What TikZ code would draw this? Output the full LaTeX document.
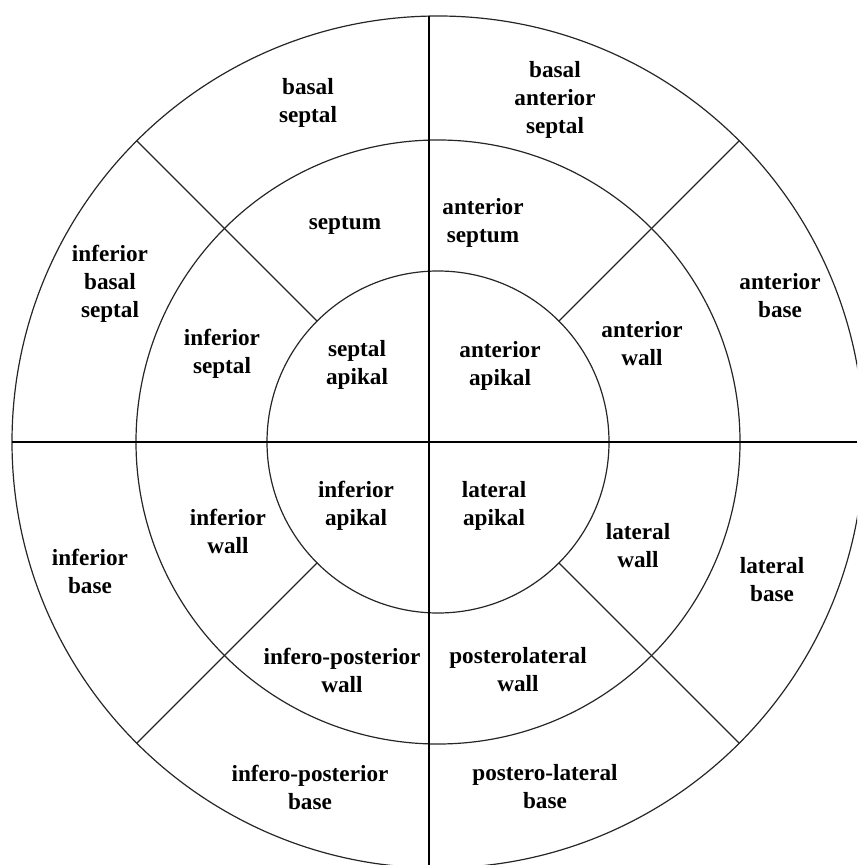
\documentclass[tikz,border=0pt]{standalone}
\usepackage{fontspec}
\setmainfont{Liberation Serif}
\tikzset{
  ring/.style={draw=black!85, line width=0.6pt},
  axis/.style={draw=black, line width=0.9pt},
  spoke/.style={draw=black!85, line width=0.6pt},
  seglabel/.style={align=center, inner sep=0pt,
    font=\fontsize{11.6}{14}\selectfont\bfseries}
}
\begin{document}
\begin{tikzpicture}[x=0.5pt,y=-0.5pt]
\useasboundingbox (0,0) rectangle (857,865);
\clip (0,0) rectangle (857,865);
\coordinate (c) at (438,442);
% three rings
\foreach \r in {213pt,151pt,85.5pt} {
  \draw[ring] (c) circle[radius=\r];
}
% cross lines
\coordinate (top) at (429,16);
\coordinate (bottom) at (429,865);
\coordinate (left) at (12,442);
\coordinate (right) at (857,442);
\draw[axis] (top) -- (bottom);
\draw[axis] (left) -- (right);
% diagonals through the two outer rings
\foreach \a in {45,135,225,315} {
  \draw[spoke] (c) ++(\a:85.5pt) -- ++(\a:127.5pt);
}
% outer ring
\node[seglabel] (bsep) at (308,103) {basal\\septal};
\node[seglabel] (bant) at (555,100) {basal\\anterior\\septal};
\node[seglabel] (ibsep) at (110,284) {inferior\\basal\\septal};
\node[seglabel] (antb) at (780,296) {anterior\\base};
\node[seglabel] (infb) at (90,571) {inferior\\base};
\node[seglabel] (latb) at (772,580) {lateral\\base};
\node[seglabel] (ipb) at (310,787) {infero-posterior\\base};
\node[seglabel] (plb) at (545,787) {postero-lateral\\base};
% middle ring
\node[seglabel] (sept) at (345,225) {septum};
\node[seglabel] (antsept) at (483,223) {anterior\\septum};
\node[seglabel] (infsept) at (222,354) {inferior\\septal};
\node[seglabel] (antw) at (642,344) {anterior\\wall};
\node[seglabel] (infw) at (228,531) {inferior\\wall};
\node[seglabel] (latw) at (638,546) {lateral\\wall};
\node[seglabel] (ipw) at (342,670) {infero-posterior\\wall};
\node[seglabel] (plw) at (518,670) {posterolateral\\wall};
% inner ring
\node[seglabel] (sapi) at (357,365) {septal\\apikal};
\node[seglabel] (aapi) at (500,366) {anterior\\apikal};
\node[seglabel] (iapi) at (356,506) {inferior\\apikal};
\node[seglabel] (lapi) at (494,506) {lateral\\apikal};
\end{tikzpicture}
\end{document}
